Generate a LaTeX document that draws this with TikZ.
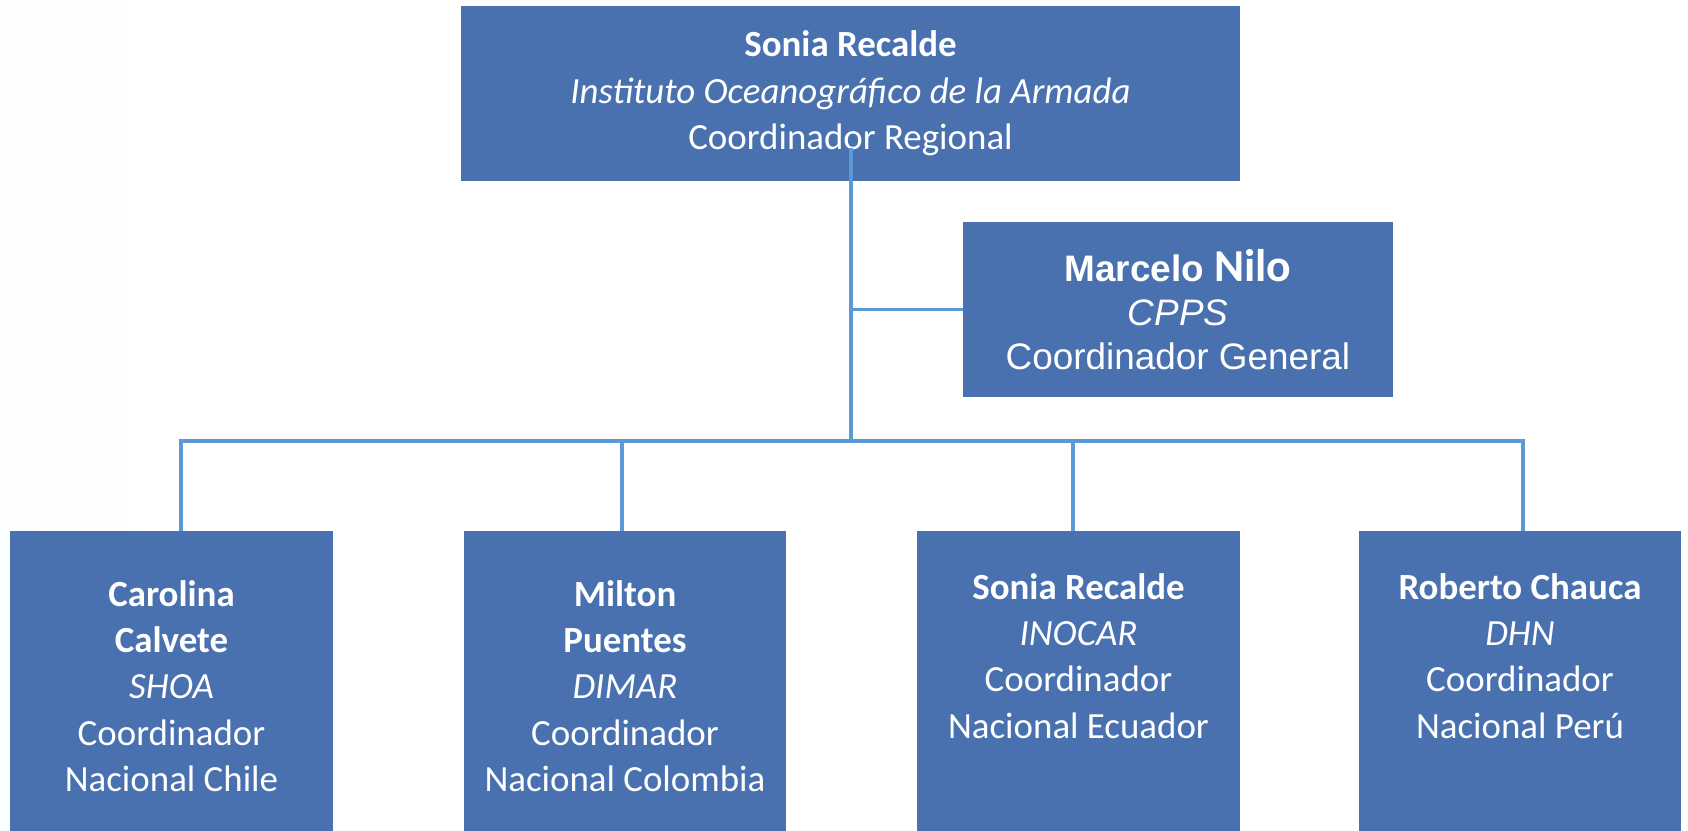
\documentclass[tikz,border=0pt]{standalone}
\usepackage{fontspec}
\setmainfont{Carlito}
\newfontfamily\arialfont{Liberation Sans}
\usepackage{xcolor}
\usetikzlibrary{positioning}

\definecolor{boxblue}{RGB}{74,113,175}
\definecolor{lineblue}{RGB}{91,155,213}
\definecolor{bgleft}{RGB}{237,243,249}
\definecolor{bgright}{RGB}{240,244,249}
\pgfdeclarehorizontalshading{bgfade}{100bp}{color(0bp)=(bgleft); color(30bp)=(white); color(75bp)=(white); color(100bp)=(bgright)}

\begin{document}
\begin{tikzpicture}[x=0.02cm, y=-0.02cm]
	% Styles
	\tikzstyle{box} = [fill=boxblue, rectangle, text=white, align=center, inner sep=0pt, font=\fontsize{21}{26.4}\selectfont]
	\tikzstyle{head} = [box, minimum width=15.58cm, minimum height=3.5cm]
	\tikzstyle{general} = [box, minimum width=8.6cm, minimum height=3.5cm, font=\arialfont\fontsize{21}{25.2}\selectfont]
	\tikzstyle{member} = [box, minimum width=6.46cm, minimum height=6.2cm]
	\tikzstyle{link} = [draw=lineblue, line width=2.2pt]

	% Background
	\shade [shading=bgfade] (0,0) rectangle (1688,831);
	\useasboundingbox (0,0) rectangle (1688,831);

	% Nodes
	\node (regional) [head] at (850.5,93.5) {\textbf{Sonia Recalde}\\ \textit{Instituto Oceanográfico de la Armada}\\ Coordinador Regional};
	\node (general) [general] at (1178,309.5) {\textbf{Marcelo {\rmfamily\fontsize{26}{25.2}\selectfont Nilo}}\\ \textit{CPPS}\\ Coordinador General};
	\node (chile) [member] at (171.5,686) {\textbf{Carolina}\\ \textbf{Calvete}\\ \textit{SHOA}\\ Coordinador\\ Nacional Chile};
	\node (colombia) [member] at (625,686) {\textbf{Milton}\\ \textbf{Puentes}\\ \textit{DIMAR}\\ Coordinador\\ Nacional Colombia};
	\node (ecuador) [member] at (1078.5,686) {\textbf{Sonia Recalde}\\ \textit{INOCAR}\\ Coordinador\\ Nacional Ecuador\\ \strut};
	\node (peru) [member] at (1520,686) {\textbf{Roberto Chauca}\\ \textit{DHN}\\ Coordinador\\ Nacional Perú\\ \strut};

	% Connections
	\coordinate (trunk) at (851,148);
	\coordinate (split) at (851,441);
	\draw [link] (trunk) -- (split);
	\draw [link] (trunk |- general.west) -- (general.west);
	\draw [link] ([xshift=0.19cm]chile.north) |- ([xshift=0.06cm]peru.north |- split) -- ([xshift=0.06cm]peru.north);
	\draw [link] ([xshift=-0.06cm]colombia.north |- split) -- ([xshift=-0.06cm]colombia.north);
	\draw [link] ([xshift=-0.11cm]ecuador.north |- split) -- ([xshift=-0.11cm]ecuador.north);

\end{tikzpicture}
\end{document}
